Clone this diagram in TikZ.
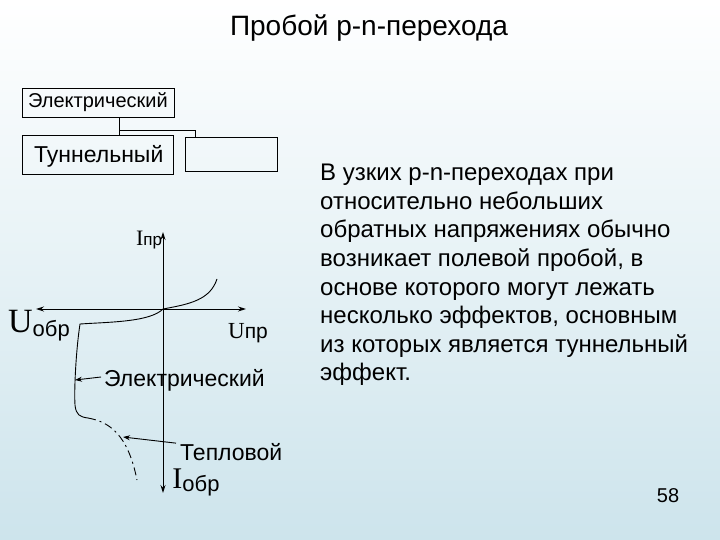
\documentclass[tikz,border=0pt]{standalone}
\usepackage{fontspec}
\setmainfont{Liberation Sans}
\newfontfamily\serf{Liberation Serif}
\usetikzlibrary{arrows.meta}
\begin{document}
\begin{tikzpicture}[x=1pt,y=-1pt,
  box/.style={draw,line width=0.8pt,inner sep=0pt},
  ax/.style={line width=0.9pt,-{Stealth[length=8pt,width=5pt]}},
  lbl/.style={inner sep=0pt,anchor=west}]
\shade[top color=white,bottom color={rgb,255:red,205;green,228;blue,236}] (0,0) rectangle (720,540);
\useasboundingbox (0,0) rectangle (720,540);
\node[inner sep=0pt] (title) at (369,28) {\fontsize{28}{32}\selectfont Пробой p-n-перехода};
\node[box,minimum width=152pt,minimum height=29pt] (el) at (98,102.5) {};
\node[lbl,font=\fontsize{20}{22}\selectfont] (elt) at (28,102.5) {Электрический};
\node[box,minimum width=151pt,minimum height=39pt] (tun) at (97.5,154.5) {};
\node[lbl] (tunt) at (34,156) {\fontsize{23}{26}\selectfont Туннельный};
\node[box,minimum width=92pt,minimum height=34pt] (emp) at (231,154) {};
\coordinate (j) at (119,130);
\draw[line width=0.8pt] (el.south -| j) -- (tun.north -| j);
\draw[line width=0.8pt] (j) -| (emp.north -| 195,0);
% axes
\coordinate (o) at (163,309);
\coordinate (top) at (163,232);
\coordinate (bot) at (163,493);
\coordinate (lft) at (36,309);
\coordinate (rgt) at (246,309);
\draw[ax] (o) -- (top);
\draw[ax] (o) -- (bot);
\draw[ax] (o) -- (lft);
\draw[ax] (o) -- (rgt);
\node[inner sep=0pt] (ipr) at (149,240) {\serf\fontsize{22}{24}\selectfont I\fontsize{17}{18}\selectfont\rmfamily пр};
\node[inner sep=0pt] (uobr) at (39,326) {\serf\fontsize{34}{36}\selectfont U\raisebox{-4pt}{\fontsize{22}{24}\selectfont\rmfamily обр}};
\node[inner sep=0pt] (upr) at (248,333) {\serf\fontsize{23}{26}\selectfont U\fontsize{21}{22}\selectfont\rmfamily пр};
\node[lbl] (elec) at (104,380) {\fontsize{23}{26}\selectfont Электрический};
\node[lbl] (tepl) at (180,452) {\fontsize{23}{26}\selectfont Тепловой};
\node[inner sep=0pt] (iobr) at (196,482) {\serf\fontsize{30}{32}\selectfont I\raisebox{-3pt}{\fontsize{22}{24}\selectfont\rmfamily обр}};
% curve
\draw[line width=0.9pt] (217,279) .. controls (210,300) and (190,304) .. (o);
\draw[line width=0.9pt] (o) .. controls (150,322) and (110,322) .. (80,324)
  .. controls (76,350) and (74,390) .. (75,405) .. controls (76,415) and (80,417) .. (88,418);
\draw[line width=0.9pt,dash pattern=on 8pt off 4pt on 2pt off 4pt] (88,418) .. controls (110,422) and (128,435) .. (137,480);
\draw[line width=0.9pt,-{Stealth[length=7pt,width=5pt]}] (elec.west) ++(-3,-3) -- (75,380);
\draw[line width=0.9pt,-{Stealth[length=7pt,width=5pt]}] (tepl.north west) ++(-4,0) -- (123,437);
\node[anchor=north west,inner sep=0pt,align=left,font=\fontsize{24}{28.6}\selectfont] (txt) at (320,164) {В узких p-n-переходах при\\относительно небольших\\обратных напряжениях обычно\\возникает полевой пробой, в\\основе которого могут лежать\\несколько эффектов, основным\\из которых является туннельный\\эффект.};
\node[inner sep=0pt] (pg) at (668,496) {\fontsize{20}{22}\selectfont 58};
\end{tikzpicture}
\end{document}
